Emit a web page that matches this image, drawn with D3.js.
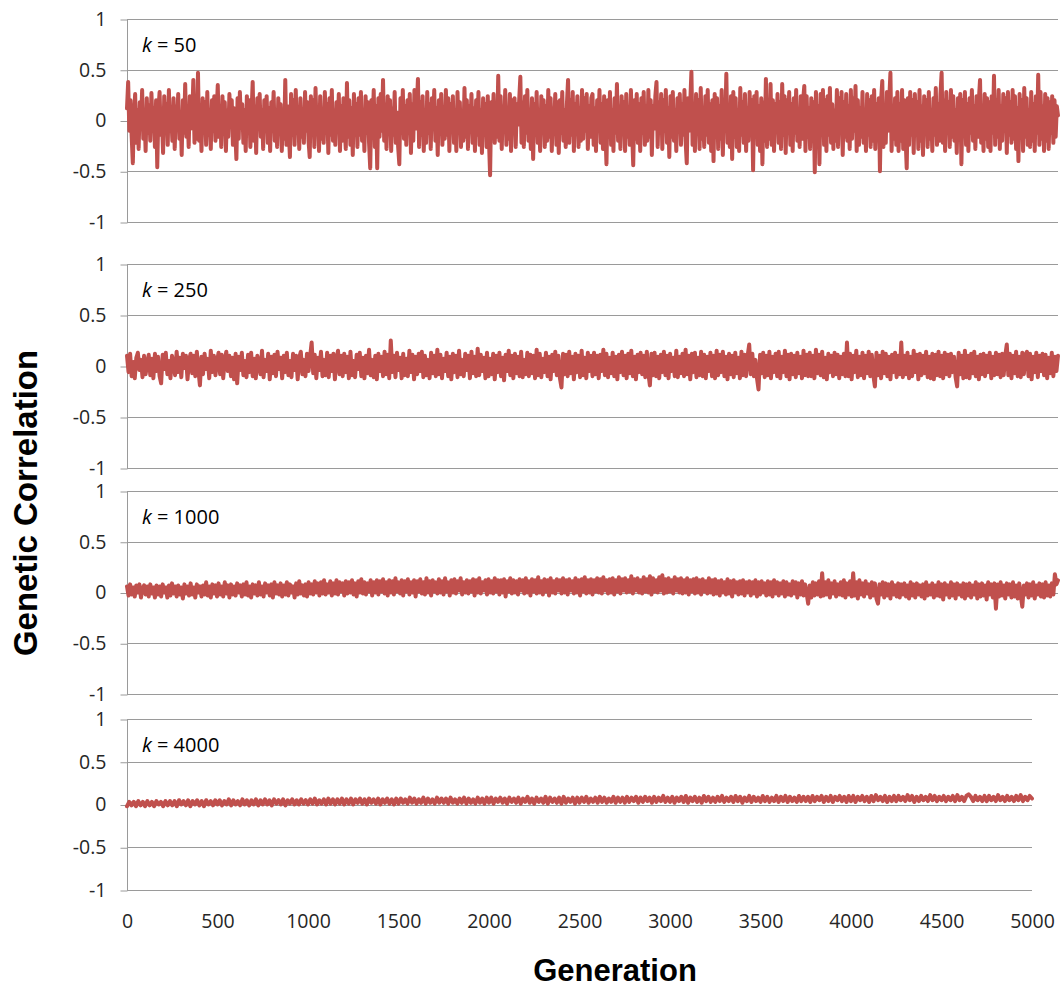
<!DOCTYPE html>
<html>
<head>
<meta charset="utf-8">
<script src="https://cdn.jsdelivr.net/npm/d3@7"></script>
<style>
  body { margin: 0; background: #fff; }
  svg { display: block; }
</style>
</head>
<body>
<svg id="chart" width="1062" height="988"></svg>
<script>
// Genetic correlation per generation, one series per k (evenly spaced over generations 0–5000)
const corrK50 = [
  .12,.38,-.1,.2,-.15,-.42,.05,.26,-.22,.1,-.28,.18,-.05,.3,-.18,.08,-.3,.22,-.12,.15,
  -.2,.27,-.08,.12,-.26,.2,-.46,.1,.28,-.14,.04,-.32,.24,-.06,.16,-.24,.3,-.1,.06,-.2,
  .22,-.28,.14,-.04,.26,-.18,.08,-.34,.2,-.12,.36,-.16,.1,-.26,.24,-.08,.02,.4,-.22,.12,
  -.18,.47,-.2,.1,-.3,.22,-.06,.18,-.24,.28,-.14,.06,-.28,.2,-.1,.24,-.2,.08,.35,-.16,
  .14,-.26,.24,-.08,.18,-.3,.1,-.16,.26,-.04,.2,-.24,.12,-.1,-.38,.22,-.18,.28,-.06,.16,
  -.22,.1,-.3,.24,-.12,.2,-.26,.06,.38,-.2,.14,-.32,.22,-.08,.26,-.16,.1,-.28,.2,-.04,
  .24,-.22,.12,-.3,.18,-.06,.28,-.2,.08,-.26,.22,-.12,.16,-.3,.06,-.18,.4,-.24,.14,-.1,
  -.36,.26,-.14,.2,-.24,.3,-.08,.12,-.28,.22,-.16,.08,-.22,.28,-.1,.18,-.2,-.36,.24,-.06,
  .2,-.26,.32,-.12,.1,-.3,.24,-.18,.06,-.22,.28,-.08,.16,-.32,.22,-.14,.3,-.2,.1,-.24,
  .18,-.1,.26,-.3,.14,-.2,.22,-.06,-.28,.37,-.16,.2,-.24,.12,-.34,.26,-.1,.16,-.26,.22,
  -.14,.28,-.2,.1,-.3,.24,-.12,.18,-.22,-.47,.2,-.08,.3,-.26,.14,-.47,.22,-.16,.26,-.1,
  .4,-.2,.16,-.28,.24,-.06,.2,-.3,.12,-.14,.28,-.22,.08,-.26,-.43,.22,-.12,.3,-.18,.14,
  -.24,.2,-.1,.26,-.32,.16,-.2,.3,-.08,.12,.41,-.26,.18,-.14,.24,-.3,.1,-.22,.28,-.12,
  .16,-.28,.22,-.06,.3,-.2,.12,-.34,.2,-.1,.26,-.24,.08,-.18,.3,-.14,.22,-.3,.16,-.08,
  .24,-.22,.1,-.3,.28,-.12,.18,-.26,.06,-.2,.32,-.16,.2,-.28,.14,-.08,.26,-.22,.12,-.3,
  .2,-.14,.28,-.24,.1,-.32,.22,-.06,.16,-.26,.24,-.18,-.54,.18,-.1,.26,-.22,.12,-.16,.44,
  -.2,.24,-.28,.14,-.1,.3,-.24,.08,-.18,.26,-.3,.2,-.12,.22,-.26,.16,-.04,.2,.43,-.22,
  .18,-.26,.24,-.12,.3,-.2,.1,-.28,.22,-.38,.16,-.14,.28,-.22,.08,-.3,.24,-.1,.2,-.26,
  .14,-.2,.3,-.16,.22,-.3,.12,-.08,.26,-.24,.18,-.32,.2,-.12,.28,-.2,.1,-.26,.16,.4,
  -.22,.2,-.14,.28,-.3,.16,-.08,.24,-.26,.12,-.2,.3,-.18,.22,-.1,.26,-.28,.14,-.16,.22,
  .26,-.24,.12,-.3,.2,-.1,.3,-.22,.16,-.28,.24,-.06,-.43,.2,-.16,.28,-.24,.1,-.3,.22,
  -.12,.36,-.2,.14,-.28,.24,-.08,.18,-.3,.26,-.16,.12,-.24,.3,-.1,-.44,.2,-.18,.26,-.22,
  .16,-.3,.22,-.12,.28,-.24,.1,-.2,.3,-.16,.2,-.34,.14,-.08,.24,.38,-.26,.18,-.12,.26,
  -.28,.2,-.1,.3,-.22,.12,-.36,.24,-.16,.28,-.2,.1,-.3,.22,-.06,.26,-.24,.16,-.14,.3,
  -.2,-.42,.22,-.1,.18,.48,-.24,.14,-.3,.26,-.12,.2,-.28,.32,-.18,.08,-.26,.24,-.14,.3,
  -.22,.16,-.3,.2,-.4,.26,-.12,.22,-.28,.14,-.18,.3,-.34,.2,-.1,.46,-.22,.12,-.26,.24,
  -.38,.28,-.16,.22,-.26,.1,-.3,.32,-.14,.18,-.22,.26,-.3,.12,-.2,.28,-.12,.2,-.49,.24,
  -.16,.28,-.24,.14,-.3,.22,-.43,.18,-.2,.41,-.26,.12,-.18,.36,-.24,.2,-.3,.16,-.1,.26,
  -.22,.18,-.28,.36,-.14,.24,-.32,.2,-.1,.28,-.24,.16,-.3,.22,-.12,.3,-.2,.1,-.26,.24,
  -.18,.2,.34,-.3,.24,-.16,.12,-.28,.22,-.1,.18,-.51,.28,-.2,.14,-.43,.26,-.12,.3,-.24,
  .2,-.3,.24,-.14,.32,-.22,.16,-.28,.1,-.2,.3,-.26,.22,-.12,.28,-.34,.18,-.16,.26,-.2,
  .14,-.28,.3,-.18,.22,-.1,.34,-.3,.2,-.24,.12,-.16,.28,-.22,.1,-.3,.26,-.14,.2,-.26,
  .24,-.2,.3,-.28,.16,-.12,.22,-.5,.2,.39,-.26,.14,-.22,.28,-.1,.2,.47,-.3,.12,-.18,
  .22,-.24,.28,-.3,.16,-.2,.3,-.28,.2,-.16,-.47,.22,-.24,.28,-.14,.2,-.32,.26,-.1,.18,
  -.28,.3,-.2,.14,-.34,.24,-.12,.2,-.26,.28,-.18,.1,-.3,.22,-.14,.32,-.24,.16,-.2,.26,
  .47,-.22,.2,-.3,.28,-.12,.18,-.26,.3,-.16,.24,-.2,.1,-.32,.22,-.14,.26,-.43,.2,-.1,
  .28,-.24,.16,-.3,.22,-.12,.3,-.2,.14,-.28,.24,-.16,.2,.4,-.22,.12,-.3,.26,-.18,.22,
  -.26,.18,-.3,.24,-.12,.44,-.24,.2,-.16,.3,-.28,.14,-.2,.26,-.1,.22,-.32,.28,-.14,.18,
  -.22,.3,-.18,.24,-.28,.12,-.4,.26,-.14,.2,-.3,.32,-.16,.22,-.24,.1,-.26,.28,-.2,.16,
  -.3,.24,-.12,.45,-.24,.28,-.18,.14,-.3,.26,-.2,.22,-.28,.18,-.12,.24,-.22,.2,-.16,.14,
  .05
];

const corrK250 = [
  .1,-.06,.12,-.1,.04,-.12,.08,.13,-.04,.06,-.11,.1,-.08,.02,.11,-.09,.07,-.12,.12,-.05,
  .09,-.1,-.17,.11,-.03,.13,-.08,.05,-.12,.1,.02,-.09,.14,-.06,.08,-.11,.12,-.02,.1,-.13,
  .06,.12,-.07,.1,-.1,.14,-.04,-.19,.09,-.08,.12,-.03,.07,-.12,.15,-.06,.1,-.09,.04,.13,
  -.08,.11,-.12,.06,.14,-.05,.1,-.1,.08,-.13,.12,-.17,.09,-.04,.13,-.09,.05,-.11,.11,-.06,
  .13,-.1,.07,-.12,.1,.02,-.08,.15,-.11,.06,-.05,.12,-.13,.09,-.07,.11,-.1,.14,-.03,.08,
  -.12,.1,-.06,.13,-.09,.05,-.11,.12,-.04,.1,-.13,.08,.14,-.08,.06,-.1,.12,-.05,.09,.23,
  -.07,.11,-.12,.08,-.04,.14,-.1,.06,-.09,.13,-.11,.1,-.05,.12,-.13,.07,.15,-.08,.1,-.1,
  .12,-.06,.09,-.12,.14,-.09,.05,-.11,.11,-.03,.13,-.1,.08,-.12,.1,-.07,.16,-.09,.06,-.11,
  .1,-.13,.12,-.05,.09,-.1,.14,-.08,.11,-.12,.25,-.06,.1,-.11,.13,-.04,.08,-.12,.12,-.09,
  .07,-.1,.15,-.06,.11,-.13,.09,-.08,.12,-.05,.14,-.11,.1,-.09,.06,-.12,.13,-.07,.1,-.1,
  .16,-.08,.11,-.12,.07,-.05,.13,-.1,.09,-.13,.12,-.06,.1,-.11,.15,-.08,.06,-.1,.12,-.04,
  .1,-.12,.14,-.07,.09,-.1,.17,-.09,.11,-.05,.08,-.12,.13,-.1,.07,-.08,.12,-.13,.1,-.06,
  .13,-.1,.08,-.14,.11,-.05,.15,-.09,.1,-.12,.12,-.07,.09,-.1,.14,-.11,.06,-.08,.13,-.1,
  .11,-.07,.1,-.12,.16,-.09,.12,-.11,.07,-.06,.13,-.1,.09,-.13,.11,-.05,.14,-.09,.1,-.12,
  -.21,.12,-.08,.11,-.1,.14,-.07,.09,-.13,.12,-.06,.1,-.11,.15,-.09,.08,-.12,.13,-.05,.1,
  -.1,.13,-.08,.1,-.12,.11,-.05,.16,-.09,.12,-.11,.08,-.07,.13,-.1,.09,-.13,.11,-.06,.14,
  -.09,.1,-.12,.12,-.07,.15,-.1,.09,-.13,.11,-.06,.13,-.08,.1,-.11,.14,-.07,-.19,.12,-.09,
  .13,-.1,.09,-.12,.11,-.06,.14,-.09,.1,-.12,.12,-.05,.08,-.1,.15,-.11,.09,-.07,.12,-.1,
  .16,-.08,.1,-.13,.12,-.06,.13,-.11,.08,-.09,.14,-.1,.11,-.12,.09,-.05,.13,-.1,.1,-.12,
  .15,-.09,.11,-.06,.14,-.1,.09,-.13,.12,-.08,.1,-.11,.13,-.07,.08,-.12,.14,-.09,.11,-.1,
  .1,.21,-.08,.12,-.1,.06,-.12,-.23,.11,-.07,.13,-.11,.1,-.09,.14,-.12,.09,-.06,.12,-.1,
  .14,-.12,.09,-.06,.15,-.1,.11,-.13,.12,-.08,.1,-.11,.13,-.07,.09,-.12,.15,-.09,.11,-.1,
  .13,-.1,.1,-.12,.16,-.07,.11,-.09,.14,-.11,.08,-.13,.12,-.06,.1,-.1,.13,-.08,.11,-.12,
  .09,-.08,.12,-.1,.23,-.1,.12,-.13,.1,-.06,.15,-.11,.09,-.09,.13,-.12,.1,-.07,.14,-.1,
  .11,-.09,-.2,.13,-.09,.1,-.12,.14,-.07,.12,-.1,.09,-.13,.11,-.06,.13,-.11,.1,-.08,.23,
  -.11,.1,-.08,.13,-.12,.09,-.1,.15,-.06,.11,-.13,.12,-.09,.1,-.07,.14,-.11,.09,-.12,.12,
  -.13,.11,-.09,.14,-.1,.1,-.12,.13,-.08,.11,-.1,.12,-.06,.09,-.11,-.2,.13,-.08,.1,-.12,
  .15,-.11,.1,-.12,.12,-.07,.14,-.1,.09,-.13,.11,-.08,.12,-.1,.1,-.06,.13,-.12,.09,-.09,
  .13,-.08,.11,-.11,.12,-.09,.1,.21,-.09,.12,-.12,.1,-.07,.14,-.1,.09,-.11,.13,-.08,.11,
  .14,-.1,.12,-.13,.09,-.06,.13,-.11,.1,-.05,.12,-.09,.11,-.12,.08,-.07,.13,-.1,.09,-.05,
  .1
];

const corrK1000 = [
  .06,-.03,.08,-.02,.05,-.04,.07,0,.08,-.05,.04,.07,-.02,.06,-.04,.08,-.01,.05,-.05,.07,
  -.02,.06,-.04,.08,0,.05,-.05,.07,-.03,.09,-.01,.06,-.04,.07,-.02,.05,-.06,.08,-.01,.06,
  -.03,.09,-.02,.05,-.05,.08,0,.06,-.04,.07,-.02,.1,-.03,.06,-.05,.08,-.01,.07,-.04,.09,
  -.02,.06,-.04,.1,-.01,.07,-.05,.08,-.02,.06,-.03,.09,0,.07,-.04,.08,-.02,.1,-.03,.06,
  -.05,.08,-.01,.07,-.03,.1,-.02,.06,-.04,.09,0,.07,-.03,.08,-.05,.1,-.01,.07,-.02,.09,
  -.04,.07,-.02,.1,-.03,.08,0,.06,-.05,.09,-.02,.11,-.01,.07,-.03,.08,-.04,.1,-.01,.08,
  -.02,.11,0,.09,-.03,.1,-.01,.12,-.02,.08,0,.11,-.03,.09,-.01,.12,-.02,.1,.01,.09,
  -.03,.11,-.01,.1,0,.12,-.02,.09,-.04,.11,0,.13,-.01,.1,-.02,.09,.01,.12,-.03,.1,
  0,.12,-.02,.11,.01,.13,-.01,.1,-.03,.12,0,.11,-.02,.14,.01,.1,-.01,.12,-.03,.11,
  .01,.13,-.02,.1,0,.12,-.04,.11,.01,.13,-.01,.1,-.02,.14,0,.11,-.03,.12,.01,.1,
  -.01,.13,0,.11,-.02,.14,.01,.1,-.03,.12,0,.13,-.01,.11,.02,.14,-.02,.1,0,.12,
  -.01,.11,.01,.13,-.03,.12,0,.14,-.01,.1,.02,.12,-.02,.13,0,.11,-.01,.14,.01,.12,
  -.02,.12,0,.13,-.04,.11,.01,.14,-.01,.12,0,.11,-.02,.13,.02,.12,-.01,.14,0,.11,
  -.03,.13,.01,.12,-.01,.15,0,.11,-.02,.13,.01,.12,-.03,.14,0,.11,-.01,.13,.02,.12,
  -.01,.14,0,.12,-.02,.13,.02,.11,-.01,.14,0,.12,-.03,.13,.01,.15,-.01,.12,0,.13,
  -.02,.12,.01,.14,0,.13,-.01,.15,.02,.12,-.01,.13,0,.14,-.02,.12,.01,.15,-.01,.13,
  .02,.14,0,.12,.01,.16,-.01,.13,.02,.14,0,.12,-.01,.15,.01,.13,0,.16,-.02,.14,
  .01,.12,0,.15,.02,.17,-.01,.13,0,.14,.01,.12,-.01,.15,.02,.13,0,.14,-.01,.12,
  0,.14,-.02,.12,.01,.13,-.01,.14,0,.12,-.02,.13,.01,.11,-.01,.14,0,.12,-.02,.13,
  -.01,.11,-.03,.12,0,.1,-.02,.13,-.01,.11,-.04,.12,0,.1,-.02,.11,-.01,.12,-.03,.1,
  0,.11,-.03,.1,-.01,.12,-.04,.1,-.02,.11,0,.09,-.03,.11,-.02,.1,-.04,.12,-.01,.1,
  -.03,.09,-.01,.11,-.04,.1,-.02,.08,-.03,.11,-.01,.1,-.05,.09,-.02,.11,-.03,.08,-.01,-.11,
  .07,-.05,.1,-.03,.09,-.02,.11,-.04,.19,-.03,.1,-.02,.12,-.05,.09,-.01,.11,-.04,.08,-.02,
  .1,-.03,.12,-.05,.09,-.02,.11,-.04,.19,-.03,.1,-.06,.12,-.02,.09,-.04,.11,-.01,.08,-.05,
  .1,-.03,.09,-.06,-.11,.08,-.02,.1,-.05,.09,-.03,.08,-.06,.1,-.02,.07,-.04,.09,-.05,.08,
  -.02,.09,-.04,.07,-.06,.1,-.03,.08,-.05,.09,-.02,.07,-.04,.08,-.06,.1,-.03,.07,-.02,.09,
  -.05,.07,-.03,.1,-.04,.08,-.07,.09,-.02,.07,-.05,.1,-.03,.08,-.06,.09,-.02,.07,-.04,.09,
  -.06,.08,-.03,.09,-.05,.07,-.02,.1,-.06,.08,-.04,.09,-.03,.07,-.07,.1,-.02,.08,-.05,.09,
  -.16,.08,-.04,.1,-.03,.07,-.06,.09,-.02,.08,-.05,.1,-.04,.07,-.06,.09,-.03,-.14,.07,-.02,
  .09,-.05,.08,-.03,.1,-.06,.07,-.02,.09,-.04,.08,-.05,.1,-.03,.07,-.04,.09,-.02,.18,.08,
  .12
];

const corrK4000 = [
  -.02,.03,-.01,.03,-.02,.04,-.01,.03,-.02,.04,-.01,.03,-.02,.04,0,.03,-.02,.04,-.01,.04,
  -.01,.04,-.02,.05,0,.04,-.01,.05,-.02,.04,0,.05,-.01,.04,-.02,.05,0,.04,-.01,.05,
  0,.05,-.01,.04,0,.06,-.01,.05,0,.04,-.01,.06,0,.05,-.01,.05,0,.06,-.01,.05,
  0,.06,0,.05,-.01,.06,.01,.05,0,.06,-.01,.05,.01,.06,0,.05,0,.06,.01,.05,
  0,.06,.01,.07,0,.05,.01,.06,0,.07,.01,.06,0,.06,.01,.07,0,.06,.01,.07,
  0,.06,.02,.07,.01,.06,0,.07,.02,.06,.01,.07,0,.06,.02,.07,.01,.06,0,.07,
  .01,.07,.02,.06,.01,.08,.02,.07,.01,.06,.02,.08,.01,.07,.02,.06,.01,.08,.02,.07,
  .02,.07,.01,.08,.02,.06,.01,.07,.02,.08,.01,.07,.02,.06,.01,.08,.02,.07,.01,.08,
  .02,.08,.01,.07,.03,.08,.02,.07,.01,.08,.03,.07,.02,.08,.01,.07,.03,.09,.02,.07,
  .01,.08,.03,.07,.02,.09,.01,.08,.03,.07,.02,.08,.01,.09,.02,.07,.03,.08,.01,.08,
  .02,.08,.03,.09,.02,.07,.03,.08,.02,.09,.03,.08,.02,.07,.03,.09,.02,.08,.03,.08,
  .02,.09,.03,.08,.04,.09,.02,.08,.03,.09,.04,.08,.02,.09,.03,.08,.04,.1,.03,.08,
  .03,.09,.02,.08,.04,.09,.03,.1,.02,.08,.04,.09,.03,.08,.02,.1,.04,.09,.03,.08,
  .03,.09,.04,.1,.03,.08,.04,.09,.03,.1,.04,.09,.02,.08,.04,.1,.03,.09,.04,.08,
  .03,.1,.04,.09,.03,.08,.04,.1,.03,.09,.04,.1,.03,.09,.04,.08,.03,.1,.04,.09,
  .04,.09,.03,.1,.04,.09,.05,.1,.03,.09,.04,.1,.03,.09,.05,.1,.04,.09,.03,.1,
  .04,.1,.03,.09,.05,.1,.04,.09,.03,.1,.04,.11,.05,.09,.04,.1,.03,.09,.04,.1,
  .04,.1,.05,.09,.04,.11,.05,.1,.03,.09,.04,.1,.05,.09,.04,.11,.05,.1,.04,.09,
  .05,.1,.04,.09,.05,.1,.04,.11,.05,.09,.04,.1,.12,.09,.04,.1,.05,.09,.04,.1,
  .04,.1,.05,.09,.04,.11,.05,.09,.04,.1,.05,.09,.04,.1,.05,.11,.04,.09,.05,.1,
  .07
];

const kValues = ["50", "250", "1000", "4000"];
const seriesByK = [corrK50, corrK250, corrK1000, corrK4000];
const yTickValues = [-1, -0.5, 0, 0.5, 1];
const xTickValues = [0, 500, 1000, 1500, 2000, 2500, 3000, 3500, 4000, 4500, 5000];
const maxGeneration = 5000;

// Panel frames (pixel layout of each stacked plot)
const frames = [
  { top: 19,  bottom: 222, right: 1058, xAxis: false },
  { top: 264, bottom: 468, right: 1058, xAxis: false },
  { top: 491, bottom: 694, right: 1058, xAxis: false },
  { top: 719, bottom: 890, right: 1032, xAxis: true }
];
const plotLeft = 127;

const svg = d3.select("#chart");
const gridColor = "#9a9a9a";
const lineColor = "#C0504D";
const tickFont = "'Open Sans', 'Noto Sans', sans-serif";

frames.forEach((f, p) => {
  const values = seriesByK[p];
  const n = values.length;
  const x = d3.scaleLinear().domain([0, maxGeneration]).range([plotLeft, f.right]);
  const y = d3.scaleLinear().domain([-1, 1]).range([f.bottom, f.top]);
  const g = svg.append("g");

  // horizontal gridlines
  g.selectAll("line.grid")
    .data(yTickValues)
    .join("line")
    .attr("class", "grid")
    .attr("x1", plotLeft)
    .attr("x2", f.right)
    .attr("y1", d => Math.round(y(d)) + 0.5)
    .attr("y2", d => Math.round(y(d)) + 0.5)
    .attr("stroke", gridColor)
    .attr("stroke-width", 1);

  // y axis with outward ticks
  const yAxis = d3.axisLeft(y)
    .tickValues(yTickValues)
    .tickSize(7)
    .tickPadding(14)
    .tickFormat(d => String(d));
  const ya = g.append("g")
    .attr("transform", `translate(${plotLeft + 0.5},0)`)
    .call(yAxis);
  ya.select(".domain").attr("stroke", gridColor).attr("d", `M0,${Math.round(y(1)) + 0.5}V${Math.round(y(-1)) + 0.5}`);
  ya.selectAll(".tick line").attr("stroke", gridColor).attr("transform", "translate(0,0.5)");
  ya.selectAll(".tick text")
    .attr("fill", "#262626")
    .style("font-family", tickFont)
    .style("font-size", "19.5px");

  // x axis labels on the bottom panel only
  if (f.xAxis) {
    const xAxis = d3.axisBottom(x).tickValues(xTickValues).tickSize(0).tickFormat(d => String(d));
    const xa = g.append("g")
      .attr("transform", `translate(0,${f.bottom})`)
      .call(xAxis);
    xa.select(".domain").remove();
    xa.selectAll(".tick text")
      .attr("y", 38)
      .attr("dy", 0)
      .attr("fill", "#262626")
      .style("font-family", tickFont)
      .style("font-size", "19.5px");
  }

  // correlation series
  const line = d3.line()
    .x((d, i) => x(i * maxGeneration / (n - 1)))
    .y(d => y(d));
  g.append("path")
    .datum(values)
    .attr("d", line)
    .attr("fill", "none")
    .attr("stroke", lineColor)
    .attr("stroke-width", 4)
    .attr("stroke-linejoin", "round")
    .attr("stroke-linecap", "round");

  // panel label
  const lbl = g.append("text")
    .attr("x", 142)
    .attr("y", f.top + 33)
    .attr("fill", "#000")
    .style("font-family", tickFont)
    .style("font-size", "20px");
  lbl.append("tspan").style("font-style", "italic").text("k");
  lbl.append("tspan").text(" = " + kValues[p]);
});

// axis titles
svg.append("text")
  .attr("transform", "translate(37,503) rotate(-90)")
  .attr("text-anchor", "middle")
  .style("font-family", "'Liberation Sans', Arial, sans-serif")
  .style("font-weight", "bold")
  .style("font-size", "33px")
  .attr("fill", "#000")
  .text("Genetic Correlation");

svg.append("text")
  .attr("x", 615)
  .attr("y", 981)
  .attr("text-anchor", "middle")
  .style("font-family", "'Liberation Sans', Arial, sans-serif")
  .style("font-weight", "bold")
  .style("font-size", "31px")
  .attr("fill", "#000")
  .text("Generation");
</script>
</body>
</html>
